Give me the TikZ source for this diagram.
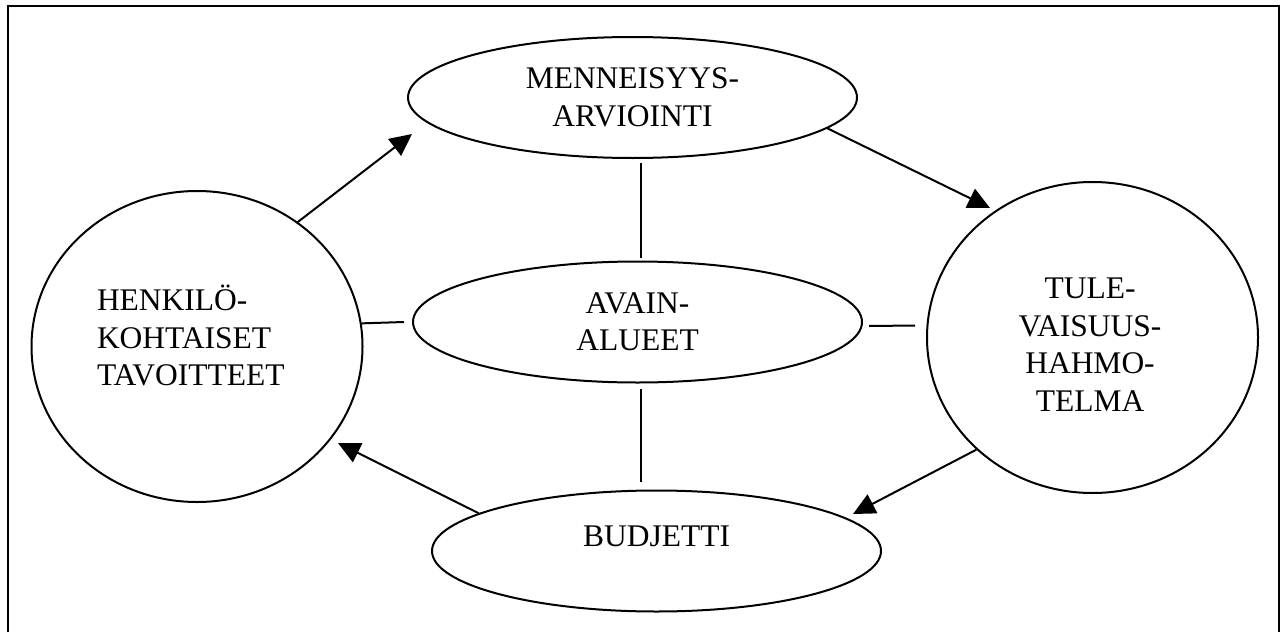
\documentclass[tikz,border=0pt]{standalone}
\usepackage{fontspec}
\setmainfont{Liberation Serif}
\usetikzlibrary{shapes.geometric,arrows.meta}
\newcommand\bigtxt{\fontsize{31.5}{37.5}\selectfont}
\tikzset{
  oval/.style={draw,ellipse,inner sep=0pt,minimum width=449pt,minimum height=121pt,align=center,font=\bigtxt},
  ring/.style={draw,ellipse,inner sep=0pt,minimum width=331pt,minimum height=311pt},
  txt/.style={inner sep=0pt,font=\bigtxt}
}
\begin{document}
\begin{tikzpicture}[x=1pt,y=-1pt,>={Triangle[length=22pt,width=21pt]},line width=2pt]
\useasboundingbox (0,0) rectangle (1282,632);
\draw[line width=2.4pt] (8,632)--(8,6)--(1279,6)--(1279,632);

\node[oval] (menn) at (632.5,97.5) {MENNEISYYS-\\ARVIOINTI};
\node[oval] (avain) at (637.5,322) {AVAIN-\\ALUEET};
\node[oval] (budj) at (656.5,551) {};
\node[txt] (budjT) at (656.5,536.5) {BUDJETTI};
\node[ring] (henk) at (197,346.5) {};
\node[txt,align=left,anchor=west] (henkT) at (96,335.5) {HENKILÖ-\\KOHTAISET\\TAVOITTEET};
\node[ring] (tule) at (1092.5,337.5) {};
\node[txt,align=center] (tuleT) at (1090,344.5) {TULE-\\VAISUUS-\\HAHMO-\\TELMA};

\coordinate (tipA) at (412,134);
\coordinate (tipB) at (990,208);
\coordinate (tipC) at (853,514);
\coordinate (tipD) at (338,443);
\draw[->] (henk.51)--(tipA);
\draw[->] (menn.351)--(tipB);
\draw[->] (tule.224)--(tipC);
\draw[->] (budj.168)--(tipD);

\draw ([xshift=8pt,yshift=-4pt]menn.south)--([xshift=3pt,yshift=3pt]avain.north);
\draw ([xshift=3pt,yshift=-5pt]avain.south)--([xshift=-16pt,yshift=8pt]budj.north);
\draw (henk.8)--([xshift=-8pt]avain.west);
\draw ([xshift=6pt,yshift=-4pt]avain.east)--([xshift=-11pt,yshift=12pt]tule.west);
\end{tikzpicture}
\end{document}
